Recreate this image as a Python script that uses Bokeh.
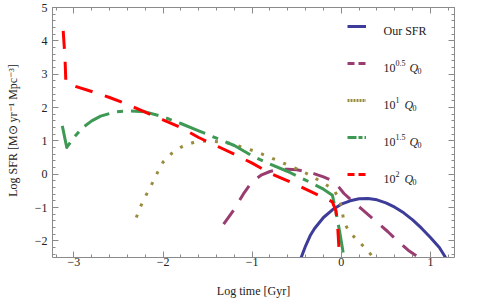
from bokeh.plotting import figure
from bokeh.models import (Range1d, LinearAxis, SingleIntervalTicker, Legend, LegendItem, Label,
                          CustomLabelingPolicy)
from bokeh.embed import file_html
from bokeh.resources import INLINE

# ---- data ----
our_x = [-0.45, -0.4, -0.35, -0.3, -0.2, -0.1, 0.0, 0.1, 0.2, 0.3, 0.4, 0.5, 0.6, 0.7, 0.8, 0.9, 1.0, 1.1, 1.17]
our_y = [-2.5, -2.15, -1.85, -1.63, -1.3, -1.07, -0.9, -0.8, -0.74, -0.73, -0.77, -0.86, -0.99, -1.16, -1.37, -1.62, -1.9, -2.2, -2.5]

q05_x = [-1.32, -1.2, -1.1, -1.0, -0.9, -0.8, -0.7, -0.6, -0.5, -0.4, -0.3, -0.2, -0.1, -0.03, 0.03, 0.1, 0.23, 0.36, 0.52, 0.63, 0.75, 0.87]
q05_y = [-1.5, -1.05, -0.6, -0.22, -0.03, 0.08, 0.14, 0.15, 0.13, 0.08, 0.01, -0.08, -0.2, -0.38, -0.58, -0.75, -1.05, -1.35, -1.72, -2.0, -2.28, -2.5]

q1_x = [-2.3, -2.25, -2.19, -2.12, -2.06, -2.0, -1.9, -1.78, -1.65, -1.5, -1.37, -1.24, -1.1, -0.97, -0.83, -0.7, -0.57, -0.44, -0.32, -0.2, -0.09, -0.02, 0.01, 0.03, 0.1, 0.19, 0.29, 0.36]
q1_y = [-1.3, -0.96, -0.63, -0.27, 0.06, 0.36, 0.63, 0.84, 0.96, 1.0, 0.97, 0.92, 0.8, 0.69, 0.54, 0.39, 0.24, 0.09, -0.08, -0.27, -0.45, -0.75, -1.1, -1.45, -1.77, -2.0, -2.28, -2.5]

q15_x = [-3.13, -3.08, -3.0, -2.9, -2.8, -2.7, -2.55, -2.4, -2.2, -2.0, -1.8, -1.6, -1.4, -1.2, -1.0, -0.8, -0.6, -0.4, -0.2, -0.1, -0.07, -0.02, 0.03]
q15_y = [1.45, 0.8, 1.1, 1.4, 1.6, 1.74, 1.86, 1.9, 1.87, 1.72, 1.52, 1.3, 1.08, 0.86, 0.55, 0.3, 0.08, -0.18, -0.45, -0.63, -1.0, -1.7, -2.5]

q2_x = [-3.12, -3.1, -3.09, -3.0, -2.8, -2.6, -2.4, -2.2, -2.0, -1.8, -1.6, -1.4, -1.2, -1.0, -0.8, -0.6, -0.4, -0.2, -0.1, -0.06, -0.04, -0.02]
q2_y = [4.3, 3.5, 2.75, 2.65, 2.48, 2.3, 2.1, 1.86, 1.63, 1.4, 1.1, 0.85, 0.6, 0.33, 0.03, -0.2, -0.45, -0.7, -0.83, -1.1, -1.6, -2.5]

x_ticks = [-3, -2, -1, 0, 1]
x_tick_labels = ["\u22123", "\u22122", "\u22121", "0", "1"]
y_ticks = [-2, -1, 0, 1, 2, 3, 4, 5]
y_tick_labels = ["\u22122", "\u22121", "0", "1", "2", "3", "4", "5"]

FONT = "Liberation Serif"
AX = "#8a8a8a"
C_BLUE = "#3d3d99"
C_PURP = "#993d71"
C_OLIVE = "#998c3d"
C_GREEN = "#3d9954"
C_RED = "#ff0000"

p = figure(width=485, height=303, output_backend="svg", toolbar_location=None,
           x_range=Range1d(-3.24, 1.27), y_range=Range1d(-2.5, 5.0),
           min_border_left=52, min_border_right=31, min_border_top=7, min_border_bottom=46,
           background_fill_color="white", border_fill_color="white")
p.grid.visible = False
p.outline_line_color = None

no_labels = CustomLabelingPolicy(code="for (const i of Array.from(indices)) { indices.set(i, false) }\nreturn indices")


def style(ax, labels=True):
    ax.axis_line_color = AX
    ax.major_tick_line_color = AX
    ax.minor_tick_line_color = AX
    ax.major_tick_in = 6
    ax.major_tick_out = 0
    ax.minor_tick_in = 3
    ax.minor_tick_out = 0
    ax.major_label_text_font = FONT
    ax.major_label_text_color = "#222222"
    if labels:
        ax.major_label_text_font_size = "12px"
    else:
        ax.major_label_text_font_size = "1px"
        ax.major_label_standoff = 0
        ax.major_label_policy = no_labels
        ax.axis_label = None


xa = p.xaxis[0]
xa.ticker = SingleIntervalTicker(interval=1, num_minor_ticks=5)
xa.major_label_overrides = dict(zip(x_ticks, x_tick_labels))
style(xa)
xa.major_label_standoff = 0
xa.axis_label = "Log time [Gyr]"
xa.axis_label_text_font = FONT
xa.axis_label_text_font_size = "12px"
xa.axis_label_text_font_style = "normal"
xa.axis_label_text_color = "#222222"
xa.axis_label_standoff = 15

ya = p.yaxis[0]
ya.ticker = SingleIntervalTicker(interval=1, num_minor_ticks=5)
ya.major_label_overrides = dict(zip(y_ticks, y_tick_labels))
style(ya)
ya.major_label_standoff = 5
ya.axis_label = "Log SFR [M\u2299 yr\u207b\u00b9 Mpc\u207b\u00b3]"
ya.axis_label_text_font = FONT
ya.axis_label_text_font_size = "12px"
ya.axis_label_text_font_style = "normal"
ya.axis_label_text_color = "#222222"
ya.axis_label_standoff = 12

top = LinearAxis(ticker=SingleIntervalTicker(interval=1, num_minor_ticks=5))
style(top, labels=False)
p.add_layout(top, "above")
right = LinearAxis(ticker=SingleIntervalTicker(interval=1, num_minor_ticks=5))
style(right, labels=False)
p.add_layout(right, "right")

# ---- curves ----
kw = dict(line_width=3, line_join="round")
p.line(our_x, our_y, line_color=C_BLUE, **kw)
p.line(q05_x, q05_y, line_color=C_PURP, line_dash="17 12", **kw)
p.line(q1_x, q1_y, line_color=C_OLIVE, line_dash="3 9", **kw)
p.line(q15_x, q15_y, line_color=C_GREEN, line_dash="28 8 6 8", **kw)
p.line(q2_x, q2_y, line_color=C_RED, line_dash="18 13", **kw)

# ---- legend samples: hidden renderers of the same series, with legend-style dashes ----
series = [(our_x, our_y, C_BLUE, "solid"),
          (q05_x, q05_y, C_PURP, "7 4"),
          (q1_x, q1_y, C_OLIVE, "2 1"),
          (q15_x, q15_y, C_GREEN, "9 2 4 2"),
          (q2_x, q2_y, C_RED, "7 4")]
lg = []
for sx, sy, c, d in series:
    r = p.line(sx, sy, line_color=c, line_width=3, line_dash=d)
    r.visible = False
    lg.append(r)

legend = Legend(items=[LegendItem(label="", renderers=[r]) for r in lg],
                location=(295, 73), orientation="vertical",
                glyph_width=19, glyph_height=20, label_height=20, label_width=0,
                spacing=17, padding=0, margin=0, label_standoff=0,
                border_line_color=None, background_fill_alpha=0,
                inactive_fill_alpha=0, label_text_font_size="12px")
p.add_layout(legend)

LX = 331
centers = [231, 194, 157, 120, 83]


def lab(x, y, t, size="12px", style="normal"):
    p.add_layout(Label(x=x, y=y, x_units="screen", y_units="screen", text=t,
                       text_font=FONT, text_font_size=size, text_font_style=style,
                       text_color="#222222", text_baseline="alphabetic"))


b = [c - 4 for c in centers]
lab(LX, b[0], "Our SFR")
lab(LX, b[1], "10")
lab(LX + 12, b[1] + 5, "0.5", "8px")
lab(LX + 26, b[1], "Q", style="italic")
lab(LX + 34, b[1] - 3, "0", "8px")
lab(LX, b[2], "10")
lab(LX + 12, b[2] + 5, "1", "8px")
lab(LX + 21, b[2], "Q", style="italic")
lab(LX + 29, b[2] - 3, "0", "8px")
lab(LX, b[3], "10")
lab(LX + 12, b[3] + 5, "1.5", "8px")
lab(LX + 26, b[3], "Q", style="italic")
lab(LX + 34, b[3] - 3, "0", "8px")
lab(LX, b[4], "10")
lab(LX + 12, b[4] + 5, "2", "8px")
lab(LX + 21, b[4], "Q", style="italic")
lab(LX + 29, b[4] - 3, "0", "8px")

open("out.html", "w").write(file_html(p, INLINE))
